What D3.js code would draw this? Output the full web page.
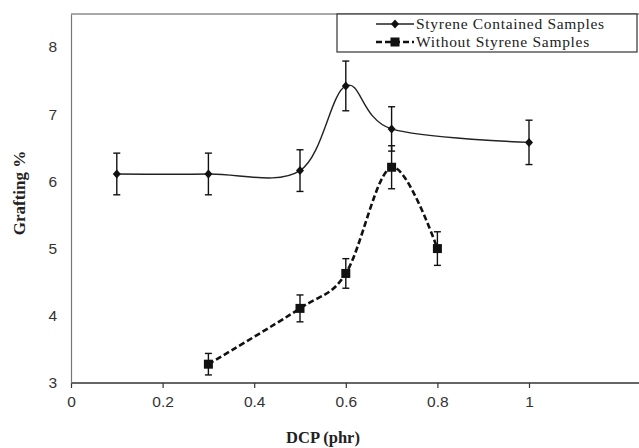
<!DOCTYPE html>
<html>
<head>
<meta charset="utf-8">
<script src="https://cdnjs.cloudflare.com/ajax/libs/d3/7.8.5/d3.min.js"></script>
<style>
  body { margin: 0; background: #fff; }
  .tick text { font-family: "Liberation Sans", Arial, sans-serif; font-size: 15.5px; fill: #333; }
</style>
</head>
<body>
<div id="chart"></div>
<script>
// data
var dcp1 = [0.1, 0.3, 0.5, 0.6, 0.7, 1.0];
var grafting1 = [6.11, 6.11, 6.16, 7.42, 6.78, 6.58];
var err1 = [0.31, 0.31, 0.31, 0.37, 0.33, 0.33];

var dcp2 = [0.3, 0.5, 0.6, 0.7, 0.8];
var grafting2 = [3.28, 4.11, 4.63, 6.21, 5.0];
var err2 = [0.16, 0.2, 0.22, 0.32, 0.25];

var xTicks = [0, 0.2, 0.4, 0.6, 0.8, 1];
var yTicks = [3, 4, 5, 6, 7, 8];
var seriesNames = ["Styrene Contained Samples", "Without Styrene Samples"];

var width = 639, height = 448;
var margin = {left: 71, top: 14, right: 0, bottom: 65};
var drawWidth = width - margin.left - margin.right;
var drawHeight = height - margin.top - margin.bottom;

var svg = d3.select("#chart").append("svg")
  .attr("width", width).attr("height", height);

var canvas = svg.append("g")
  .attr("transform", "translate(" + margin.left + "," + margin.top + ")");

var x = d3.scaleLinear().domain([0, 1]).range([0, 458]);
var y = d3.scaleLinear().domain([3, 8.49]).range([drawHeight, 0]);

// top border
canvas.append("line")
  .attr("x1", 0).attr("x2", drawWidth).attr("y1", 0).attr("y2", 0)
  .attr("stroke", "#555").attr("stroke-width", 1.2);

// axes
var xAxis = canvas.append("g")
  .attr("transform", "translate(0," + drawHeight + ")")
  .call(d3.axisBottom(x).tickValues(xTicks).tickSize(5).tickPadding(8).tickFormat(d3.format("")));
xAxis.select(".domain").attr("d", "M0,0H" + drawWidth).attr("stroke", "#333").attr("stroke-width", 1.4);
xAxis.selectAll(".tick line").attr("stroke", "#333").attr("stroke-width", 1.2);

var yAxis = canvas.append("g")
  .call(d3.axisLeft(y).tickValues(yTicks).tickSize(0).tickPadding(14).tickFormat(d3.format("d")));
yAxis.select(".domain").attr("stroke", "#777").attr("stroke-width", 1.2);

// axis titles
canvas.append("text")
  .attr("x", 252).attr("y", drawHeight + 60)
  .attr("text-anchor", "middle")
  .style("font-family", "'Liberation Serif', 'Times New Roman', serif")
  .style("font-weight", "bold").style("font-size", "16.5px").style("fill", "#222")
  .text("DCP (phr)");

canvas.append("text")
  .attr("transform", "rotate(-90)")
  .attr("x", -(193 - margin.top)).attr("y", -46)
  .attr("text-anchor", "middle")
  .style("font-family", "'Liberation Serif', 'Times New Roman', serif")
  .style("font-weight", "bold").style("font-size", "17px").style("fill", "#222")
  .text("Grafting %");

var line = d3.line()
  .x(function(d) { return x(d.x); })
  .y(function(d) { return y(d.y); })
  .curve(d3.curveCardinal.tension(0));

var data1 = dcp1.map(function(d, i) { return {x: d, y: grafting1[i], e: err1[i]}; });
var data2 = dcp2.map(function(d, i) { return {x: d, y: grafting2[i], e: err2[i]}; });

function errorBars(data) {
  var g = canvas.append("g").attr("stroke", "#111").attr("stroke-width", 1.4);
  data.forEach(function(d) {
    var cx = x(d.x);
    g.append("line").attr("x1", cx).attr("x2", cx).attr("y1", y(d.y + d.e)).attr("y2", y(d.y - d.e));
    g.append("line").attr("x1", cx - 3.5).attr("x2", cx + 3.5).attr("y1", y(d.y + d.e)).attr("y2", y(d.y + d.e));
    g.append("line").attr("x1", cx - 3.5).attr("x2", cx + 3.5).attr("y1", y(d.y - d.e)).attr("y2", y(d.y - d.e));
  });
}

errorBars(data1);
errorBars(data2);

canvas.append("path").datum(data1)
  .attr("fill", "none").attr("stroke", "#222").attr("stroke-width", 1.4)
  .attr("d", line);

canvas.append("path").datum(data2)
  .attr("fill", "none").attr("stroke", "#111").attr("stroke-width", 2.6)
  .attr("stroke-dasharray", "6,3")
  .attr("d", line);

canvas.selectAll(".diamond").data(data1).enter().append("path")
  .attr("class", "diamond")
  .attr("transform", function(d) { return "translate(" + x(d.x) + "," + y(d.y) + ")"; })
  .attr("d", "M0,-4.5L4,0L0,4.5L-4,0Z")
  .attr("fill", "#111");

canvas.selectAll(".square").data(data2).enter().append("rect")
  .attr("class", "square")
  .attr("x", function(d) { return x(d.x) - 4.5; })
  .attr("y", function(d) { return y(d.y) - 4.5; })
  .attr("width", 9).attr("height", 9)
  .attr("fill", "#111");

// legend
var legend = svg.append("g").attr("transform", "translate(337,14)");
legend.append("rect").attr("x", 0).attr("y", 0).attr("width", 300).attr("height", 38)
  .attr("fill", "#fff").attr("stroke", "#333").attr("stroke-width", 1.2);

legend.append("line").attr("x1", 39).attr("x2", 77).attr("y1", 10).attr("y2", 10)
  .attr("stroke", "#222").attr("stroke-width", 1.4);
legend.append("path").attr("transform", "translate(58,10)")
  .attr("d", "M0,-4.5L4,0L0,4.5L-4,0Z").attr("fill", "#111");

legend.append("line").attr("x1", 39).attr("x2", 77).attr("y1", 28).attr("y2", 28)
  .attr("stroke", "#111").attr("stroke-width", 2.6).attr("stroke-dasharray", "6,3");
legend.append("rect").attr("x", 53.5).attr("y", 23.5).attr("width", 9).attr("height", 9).attr("fill", "#111");

legend.selectAll(".lg").data(seriesNames).enter().append("text")
  .attr("x", 79).attr("y", function(d, i) { return 15 + i * 18; })
  .style("font-family", "'Liberation Serif', 'Times New Roman', serif")
  .style("font-size", "15.5px").style("letter-spacing", "0.7px").style("fill", "#222")
  .text(function(d) { return d; });
</script>
</body>
</html>
